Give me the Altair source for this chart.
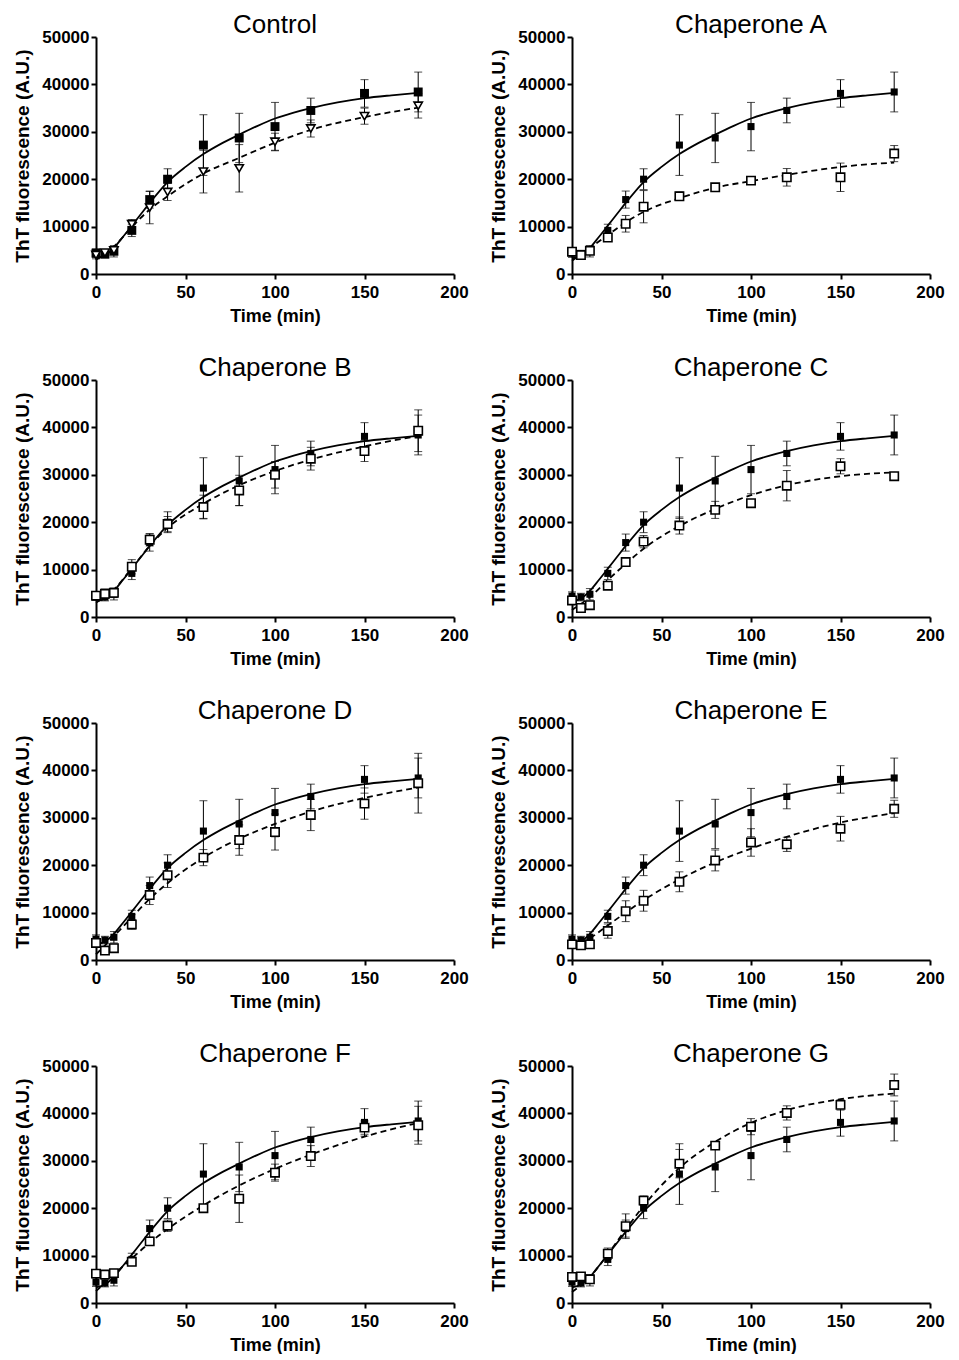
import altair as alt
import pandas as pd

TIME = [0, 5, 10, 20, 30, 40, 60, 80, 100, 120, 150, 180]

# Reference (no chaperone) series, shown in every panel
REF_MEAN = [4400, 4200, 4800, 9200, 15700, 20000, 27200, 28700, 31100, 34500, 38100, 38400]
REF_ERR = [900, 800, 1200, 1300, 1800, 2200, 6400, 5200, 5100, 2600, 2900, 4200]

# Fitted curve points
FIT_T = [0, 5, 10, 15, 20, 25, 30, 40, 50, 60, 70, 80, 90, 100, 110, 120, 135, 150, 165, 180]
REF_FIT = [3300, 3900, 5500, 7800, 10200, 12600, 15000, 19400, 22600, 25300, 27500, 29400,
           31200, 32800, 34000, 35000, 36200, 37100, 37700, 38200]

PANEL_NAMES = ["Control", "Chaperone A", "Chaperone B", "Chaperone C",
               "Chaperone D", "Chaperone E", "Chaperone F", "Chaperone G"]

CTRL_MEAN = [4000, 4500, 5000, 10500, 14000, 17300, 21600, 22300, 27900, 30700, 33300, 35500]
CTRL_ERR = [800, 600, 600, 1000, 3400, 1800, 4500, 5000, 1800, 1800, 1700, 2600]
A_MEAN = [4700, 4000, 4900, 7700, 10600, 14200, 16400, 18300, 19700, 20400, 20400, 25400]
A_ERR = [800, 700, 700, 800, 1750, 3400, 900, 500, 700, 1850, 3000, 1700]
B_MEAN = [4500, 4900, 5100, 10600, 16300, 19600, 23200, 26700, 30000, 33400, 35000, 39300]
B_ERR = [600, 1000, 1000, 1500, 1300, 1600, 2500, 3200, 2800, 2400, 2200, 4400]
C_MEAN = [3500, 1900, 2500, 6600, 11600, 15900, 19300, 22600, 24000, 27700, 31800, 29700]
C_ERR = [800, 600, 800, 800, 700, 1300, 1800, 1800, 500, 3200, 1600, 600]
D_MEAN = [3600, 2000, 2500, 7500, 13700, 17900, 21600, 25300, 27000, 30600, 33000, 37300]
D_ERR = [800, 700, 800, 1000, 2000, 2600, 1700, 3200, 3800, 3300, 3300, 6300]
E_MEAN = [3300, 3100, 3300, 6100, 10300, 12500, 16500, 21000, 24800, 24400, 27700, 31900]
E_ERR = [700, 600, 700, 1500, 2200, 2200, 2100, 2200, 2900, 1500, 2600, 1800]
F_MEAN = [6200, 6000, 6300, 8700, 13000, 16300, 20000, 22000, 27500, 31000, 37000, 37500]
F_ERR = [700, 800, 800, 800, 800, 1200, 700, 5000, 1800, 2200, 1400, 4000]
G_MEAN = [5500, 5600, 5000, 10400, 16200, 21600, 29400, 33200, 37200, 40100, 41800, 46000]
G_ERR = [800, 800, 800, 1200, 2600, 1000, 3000, 800, 1700, 1500, 1100, 2300]

FIT_T2 = [0, 10, 20, 30, 40, 60, 80, 100, 120, 150, 180]
CTRL_FIT = [3000, 5800, 9900, 13600, 16400, 21200, 24500, 27700, 30400, 33100, 35100]
A_FIT = [2800, 5500, 8200, 10900, 13100, 16000, 18200, 19600, 20900, 22600, 23500]
B_FIT = [3000, 5800, 10300, 15000, 18800, 23900, 27800, 30800, 33200, 36000, 38200]
C_FIT = [1500, 4200, 7800, 11200, 14400, 19200, 22800, 25700, 27800, 29700, 30500]
D_FIT = [1200, 5000, 9000, 12900, 16200, 21600, 25600, 28700, 31300, 34200, 36400]
E_FIT = [2800, 4600, 7300, 10000, 12600, 17000, 20600, 23500, 26000, 29000, 31000]
F_FIT = [2500, 6000, 9400, 12700, 15600, 20600, 24800, 28300, 31300, 35100, 38000]
G_FIT = [2300, 5500, 10300, 15500, 20500, 28500, 34000, 38000, 40700, 43000, 44200]

SERIES = [(CTRL_MEAN, CTRL_ERR, CTRL_FIT), (A_MEAN, A_ERR, A_FIT), (B_MEAN, B_ERR, B_FIT),
          (C_MEAN, C_ERR, C_FIT), (D_MEAN, D_ERR, D_FIT), (E_MEAN, E_ERR, E_FIT),
          (F_MEAN, F_ERR, F_FIT), (G_MEAN, G_ERR, G_FIT)]

FONT = "Liberation Sans"
W, H = 358, 237

xscale = alt.Scale(domain=[0, 200], nice=False)
yscale = alt.Scale(domain=[0, 50000], nice=False)
xaxis = alt.Axis(values=[0, 50, 100, 150, 200], title="Time (min)", labelFlush=False,
                 titleFontSize=18, labelPadding=5, titlePadding=7)
yaxis = alt.Axis(values=[0, 10000, 20000, 30000, 40000, 50000], format="d",
                 title="ThT fluorescence (A.U.)", titleFontSize=19, labelPadding=2, titlePadding=9)


def points_df(mean, err):
    return pd.DataFrame({"t": TIME, "m": mean,
                         "lo": [m - e for m, e in zip(mean, err)],
                         "hi": [m + e for m, e in zip(mean, err)]})


def series_layers(df, shape, filled, size):
    x = alt.X("t:Q", scale=xscale, axis=xaxis)
    bars = alt.Chart(df).mark_rule(color="black", strokeWidth=1).encode(
        x=x, y=alt.Y("lo:Q", scale=yscale, axis=yaxis), y2="hi:Q")
    cap_hi = alt.Chart(df).mark_tick(color="black", orient="horizontal", size=8, thickness=1).encode(
        x=x, y=alt.Y("hi:Q", scale=yscale))
    cap_lo = alt.Chart(df).mark_tick(color="black", orient="horizontal", size=8, thickness=1).encode(
        x=x, y=alt.Y("lo:Q", scale=yscale))
    if filled:
        pts = alt.Chart(df).mark_point(shape=shape, filled=True, color="black", size=size, opacity=1).encode(
            x=x, y=alt.Y("m:Q", scale=yscale))
    else:
        pts = alt.Chart(df).mark_point(shape=shape, filled=False, fill="white", fillOpacity=1,
                                       stroke="black", strokeWidth=1.6, size=size, opacity=1).encode(
            x=x, y=alt.Y("m:Q", scale=yscale))
    return [bars, cap_hi, cap_lo, pts]


def fit_layer(tvals, yvals, dashed):
    df = pd.DataFrame({"t": tvals, "f": yvals})
    kw = dict(color="black", strokeWidth=1.8, interpolate="monotone")
    if dashed:
        kw["strokeDash"] = [6, 4]
    return alt.Chart(df).mark_line(**kw).encode(
        x=alt.X("t:Q", scale=xscale, axis=xaxis), y=alt.Y("f:Q", scale=yscale, axis=yaxis))


panels = []
ref_df = points_df(REF_MEAN, REF_ERR)
for i, (name, (mean, err, fit)) in enumerate(zip(PANEL_NAMES, SERIES)):
    other_df = points_df(mean, err)
    shape = "triangle-down" if i == 0 else "square"
    layers = [fit_layer(FIT_T, REF_FIT, False), fit_layer(FIT_T2, fit, True)]
    layers += series_layers(ref_df, "square", True, 80 if i == 0 else 50)
    layers += series_layers(other_df, shape, False, 70)
    p = alt.layer(*layers).properties(
        width=W, height=H,
        title=alt.TitleParams(name, fontSize=26, fontWeight="normal", font=FONT, color="black", offset=-10))
    panels.append(p)

rows = [alt.hconcat(panels[2 * r], panels[2 * r + 1], spacing=20) for r in range(4)]
chart = alt.vconcat(*rows, spacing=30).configure_view(stroke=None).configure_axis(
    domainColor="black", domainWidth=2, tickColor="black", tickWidth=2, tickSize=5,
    grid=False, labelFont=FONT, labelFontSize=17, labelFontWeight="bold", labelColor="black",
    titleFont=FONT, titleFontWeight="bold", titleColor="black"
).properties(padding={"left": 5, "top": 4, "right": 5, "bottom": 0})

chart.save("out.html", embed_options={"renderer": "svg", "actions": False})
